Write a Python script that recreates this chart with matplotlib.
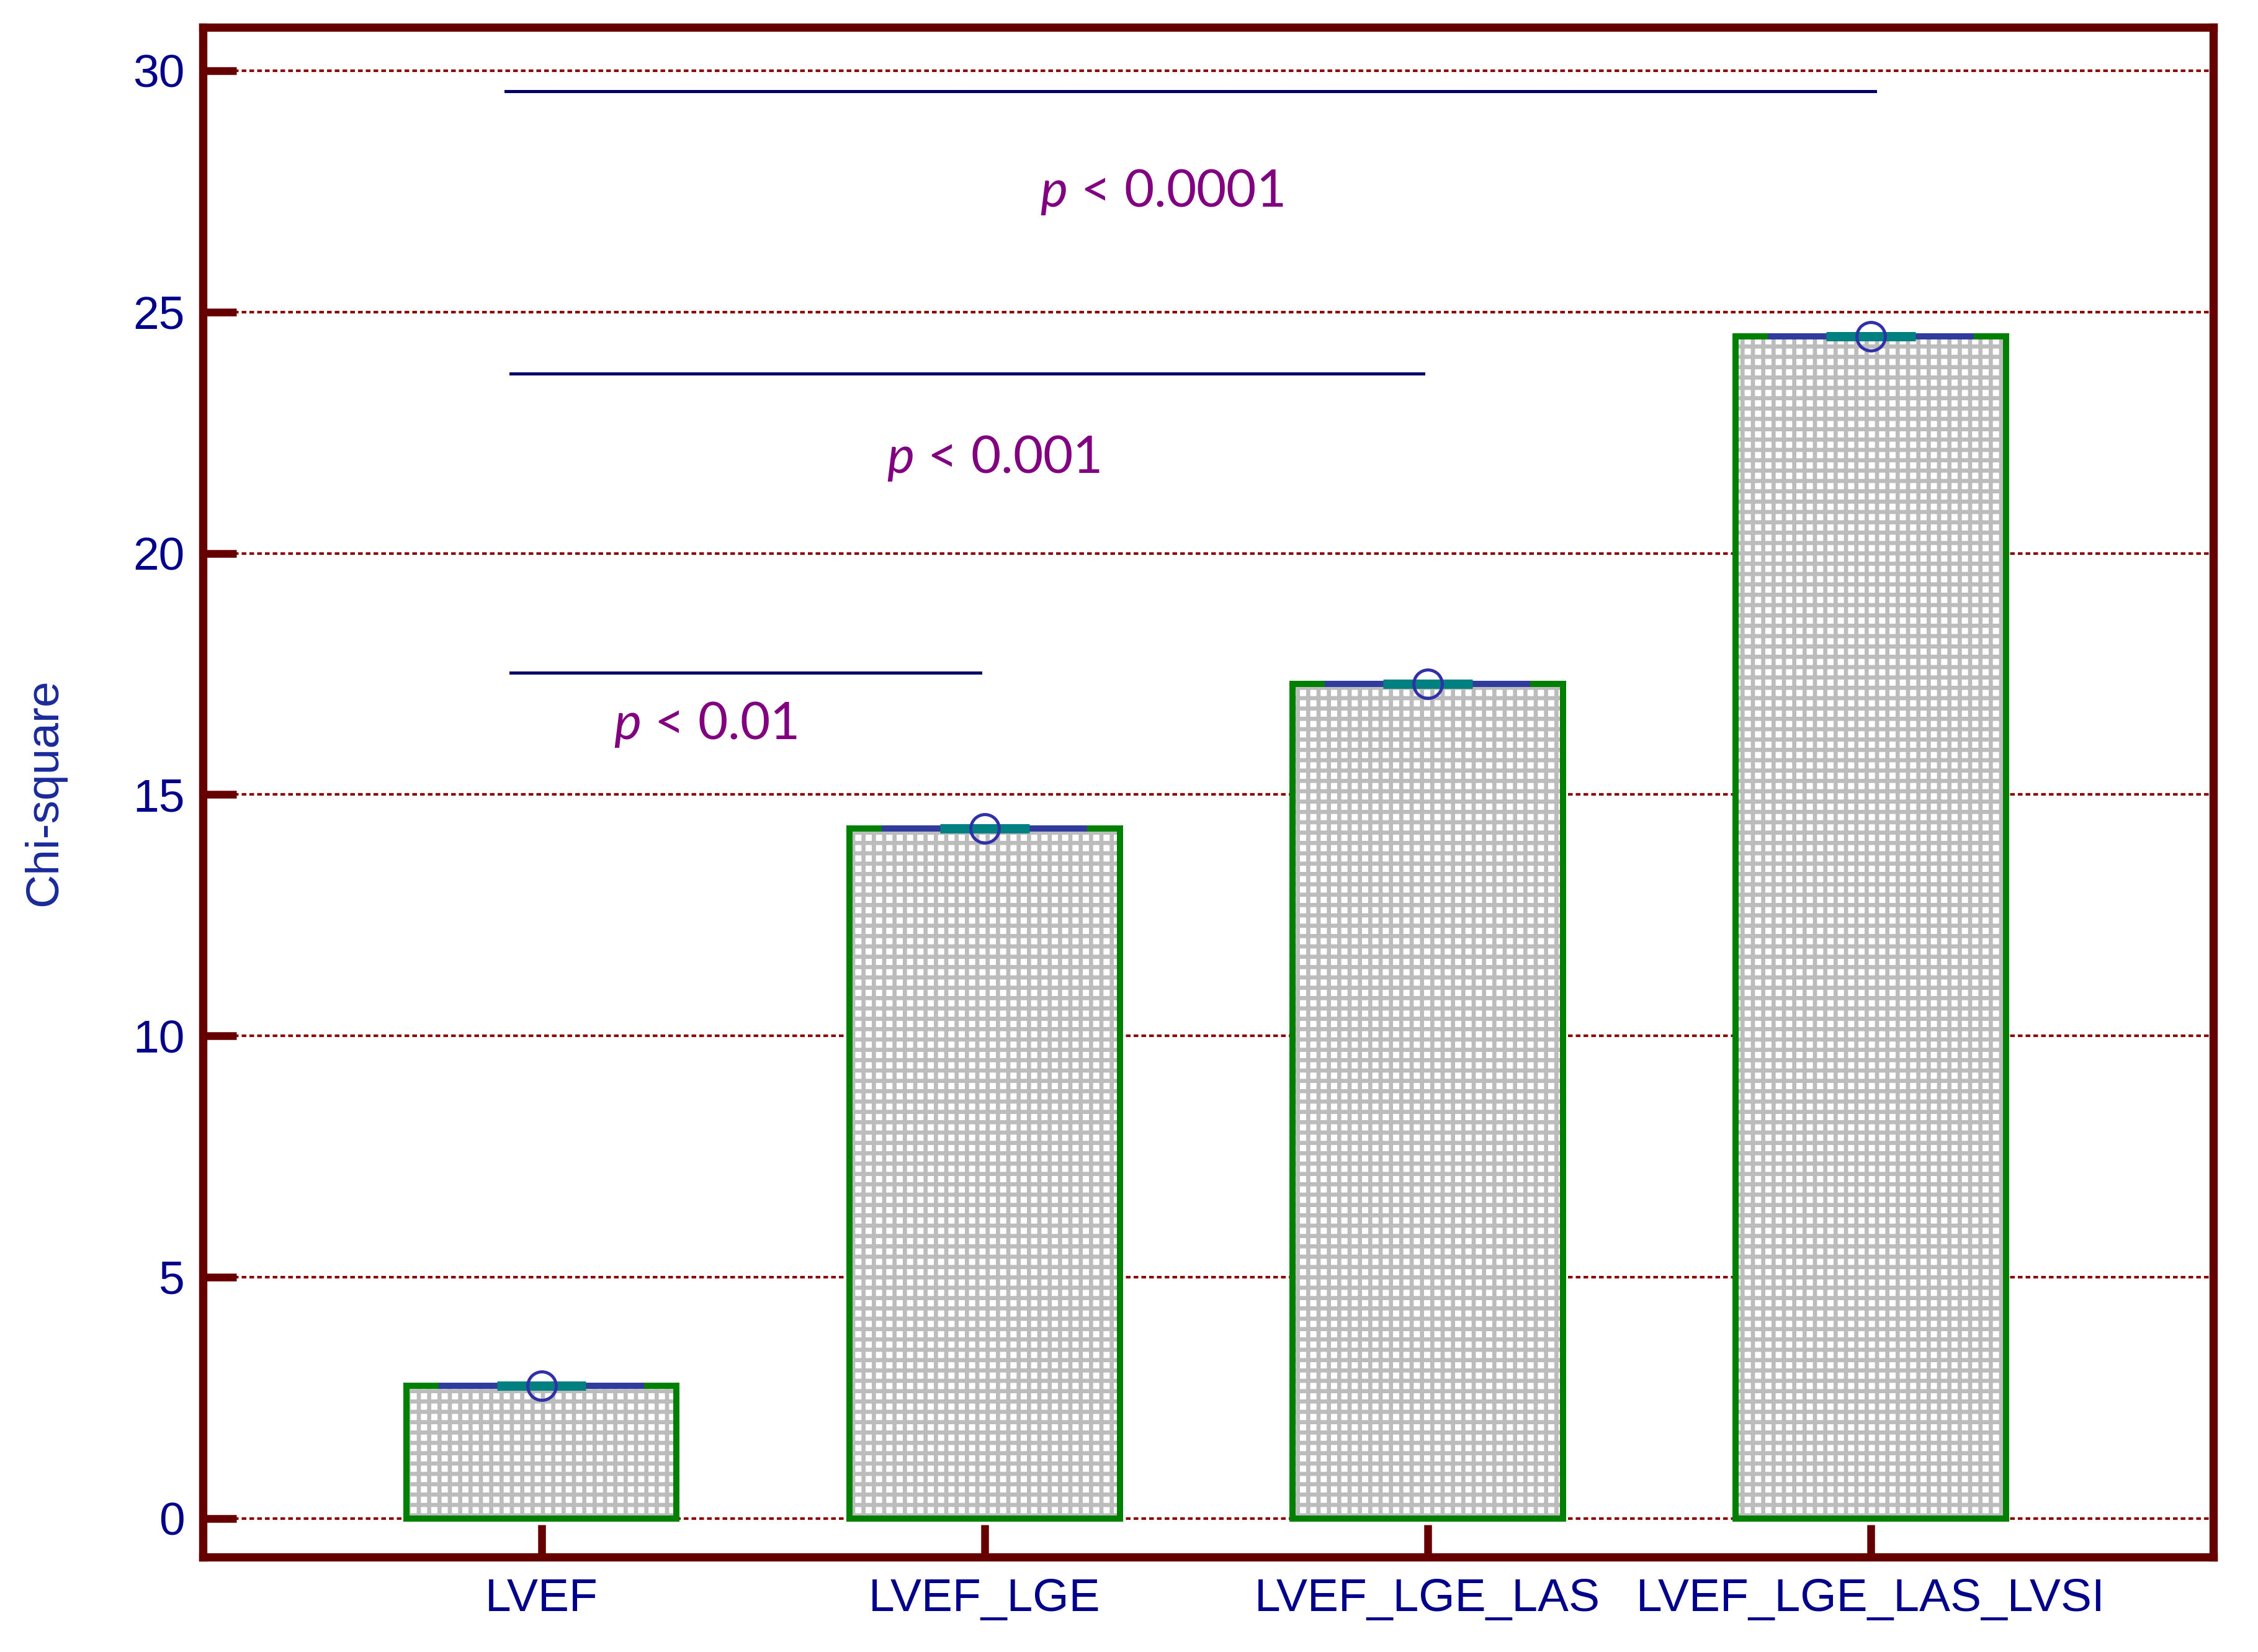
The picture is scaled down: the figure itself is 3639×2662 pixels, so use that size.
import matplotlib
matplotlib.use("Agg")
import matplotlib.pyplot as plt

# ---- data ----
categories = ["LVEF", "LVEF_LGE", "LVEF_LGE_LAS", "LVEF_LGE_LAS_LVSI"]
chi_square = [2.75, 14.3, 17.3, 24.5]
y_ticks = [0, 5, 10, 15, 20, 25, 30]

# significance brackets
sig_x_start = [-0.08, -0.07, -0.07]
sig_x_end = [3.01, 1.99, 0.99]
sig_y = [29.58, 23.73, 17.52]
sig_text_x = [1.40, 1.02, 0.37]
sig_text_y = [27.49, 21.97, 16.45]
sig_labels = [r"$\it{p}$ < 0.0001", r"$\it{p}$ < 0.001", r"$\it{p}$ < 0.01"]

plt.rcParams['font.family'] = ['Liberation Sans', 'DejaVu Sans']
plt.rcParams['hatch.linewidth'] = 1.6
plt.rcParams['hatch.color'] = '#bcbcbc'
plt.rcParams['mathtext.fontset'] = 'custom'
plt.rcParams['mathtext.it'] = 'Lato:italic'
plt.rcParams['mathtext.rm'] = 'Lato'

frame_col = '#660000'
navy = '#00008b'

fig = plt.figure(figsize=(3639 / 300, 2662 / 300), dpi=300)
ax = fig.add_axes([327 / 3639, 1 - 2509 / 2662, (3567 - 327) / 3639, (2509 - 44) / 2662])

x = list(range(len(categories)))
w = 0.61

# textured fill
ax.bar(x, chi_square, width=w, color='white', edgecolor='#bcbcbc', linewidth=0,
       hatch='+++', zorder=2)
# green outline
ax.bar(x, chi_square, width=w, fill=False, edgecolor='#008000', linewidth=2.4, zorder=3)

# value lines and markers
for xi, v in zip(x, chi_square):
    ax.plot([xi - 0.38 * w, xi + 0.38 * w], [v, v], color='#3535b0', lw=2.4,
            solid_capstyle='butt', zorder=4, alpha=0.9)
    ax.plot([xi - 0.165 * w, xi + 0.165 * w], [v, v], color='#008080', lw=3.6,
            solid_capstyle='butt', zorder=5)
ax.plot(x, chi_square, linestyle='none', marker='o', markersize=11,
        markerfacecolor='none', markeredgecolor='#3030a8', markeredgewidth=1.2, zorder=6)

# significance lines and texts
for xs, xe, ys in zip(sig_x_start, sig_x_end, sig_y):
    ax.plot([xs, xe], [ys, ys], color='#000066', lw=1.2, zorder=4)
for tx, ty, lab in zip(sig_text_x, sig_text_y, sig_labels):
    ax.text(tx, ty, lab, color='#800080', fontsize=20, family='Lato',
            ha='center', va='center', zorder=7,
            bbox=dict(facecolor='white', edgecolor='none', pad=3))

ax.set_xlim(-0.764, 3.773)
ax.set_ylim(-0.8, 30.9)
ax.set_yticks(y_ticks)
ax.set_xticks(x)
ax.set_xticklabels(categories)

ax.yaxis.grid(True, color='#8b0000', linestyle=(0, (1.8, 1.2)), linewidth=1.0)
ax.set_axisbelow(True)

for sp in ax.spines.values():
    sp.set_color(frame_col)
    sp.set_linewidth(3.2)

ax.tick_params(axis='y', direction='in', length=13, width=3.0, color=frame_col,
               labelsize=18, labelcolor=navy, pad=7)
ax.tick_params(axis='x', direction='in', length=12.5, width=3.0, color=frame_col,
               labelsize=18, labelcolor=navy, pad=8)

ax.set_ylabel("Chi-square", fontsize=18, color='#1a2a9a')
ax.yaxis.set_label_coords(-0.068, 0.5)

fig.savefig("out.png", dpi=300, facecolor='white')
